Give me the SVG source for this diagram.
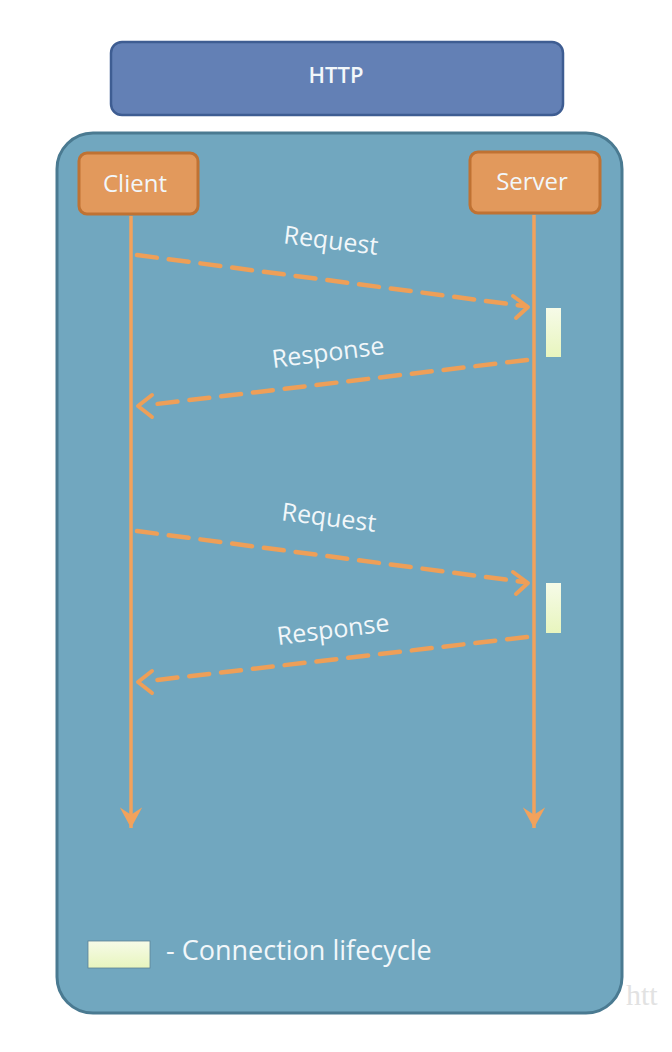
<svg xmlns="http://www.w3.org/2000/svg" width="672" height="1052" viewBox="0 0 672 1052">
<style>
.lbl{font-family:"Open Sans","Liberation Sans",sans-serif;fill:#F2F7FA;}
.life{stroke:#F2A25C;stroke-width:3.5;fill:none;}
.msg{stroke:#EE9F58;stroke-width:4.5;fill:none;stroke-dasharray:20 12;stroke-linecap:round;}
.head{stroke:#EE9F58;stroke-width:4;fill:none;stroke-linecap:round;stroke-linejoin:round;}
.actor{fill:#E2995C;stroke:#BF7233;stroke-width:3;}
.cycle{fill:url(#cg);}
</style>
<defs>
<linearGradient id="cg" x1="0" y1="0" x2="0" y2="1">
<stop offset="0" stop-color="#F6FBE8"/>
<stop offset="1" stop-color="#E8F5BE"/>
</linearGradient>
<marker id="down" viewBox="0 0 12 12" refX="11" refY="6" markerWidth="6.5" markerHeight="6.5" orient="auto" markerUnits="strokeWidth">
<path d="M0,0 L11,6 L0,12 L4,6 Z" fill="#F2A25C"/>
</marker>
</defs>
<rect width="672" height="1052" fill="#FFFFFF"/>
<g id="http">
<rect x="111" y="42" width="452" height="73" rx="11" fill="#6380B5" stroke="#3E5D92" stroke-width="2.5"/>
<text x="336" y="83" class="lbl" font-size="22" font-weight="600" text-anchor="middle">HTTP</text>
</g>
<g id="container">
<rect x="57" y="133" width="565" height="880" rx="36" fill="#71A7BF" stroke="#4A7A91" stroke-width="3"/>
</g>
<g id="client">
<rect x="79" y="153" width="119" height="61" rx="8" class="actor"/>
<text x="135" y="192" class="lbl" font-size="24" font-weight="500" text-anchor="middle">Client</text>
</g>
<g id="server">
<rect x="470" y="152" width="130" height="61" rx="8" class="actor"/>
<text x="532" y="190" class="lbl" font-size="24" font-weight="500" text-anchor="middle">Server</text>
</g>
<g id="connectors">
<line x1="131" y1="216" x2="131" y2="828" class="life" marker-end="url(#down)"/>
<line x1="534" y1="215" x2="534" y2="828" class="life" marker-end="url(#down)"/>
<line x1="137" y1="255" x2="524" y2="306" class="msg"/>
<polyline points="513,296 528,307 516,318" class="head"/>
<line x1="527" y1="360" x2="148" y2="405" class="msg"/>
<polyline points="152,395 138,406 152,417" class="head"/>
<line x1="137" y1="531" x2="524" y2="582" class="msg"/>
<polyline points="513,572 528,583 516,594" class="head"/>
<line x1="527" y1="637" x2="148" y2="681" class="msg"/>
<polyline points="152,671 138,682 152,693" class="head"/>
</g>
<g id="labels">
<text x="330" y="249" class="lbl" font-size="25" text-anchor="middle" transform="rotate(7 330 249)">Request</text>
<text x="329" y="361" class="lbl" font-size="25" text-anchor="middle" transform="rotate(-7 329 361)">Response</text>
<text x="328" y="526" class="lbl" font-size="25" text-anchor="middle" transform="rotate(7 328 526)">Request</text>
<text x="334" y="638" class="lbl" font-size="25" text-anchor="middle" transform="rotate(-7 334 638)">Response</text>
</g>
<g id="lifecycles">
<rect x="546" y="308" width="15" height="49" class="cycle"/>
<rect x="546" y="583" width="15" height="50" class="cycle"/>
</g>
<g id="legend">
<rect x="88" y="941" width="62" height="27" class="cycle" stroke="#5C8296" stroke-width="0.8"/>
<text x="166" y="960" class="lbl" font-size="27">- Connection lifecycle</text>
</g>
<text x="626" y="1005" font-family="Liberation Serif,serif" font-size="30" fill="#E2E2E2">htt</text>
</svg>
